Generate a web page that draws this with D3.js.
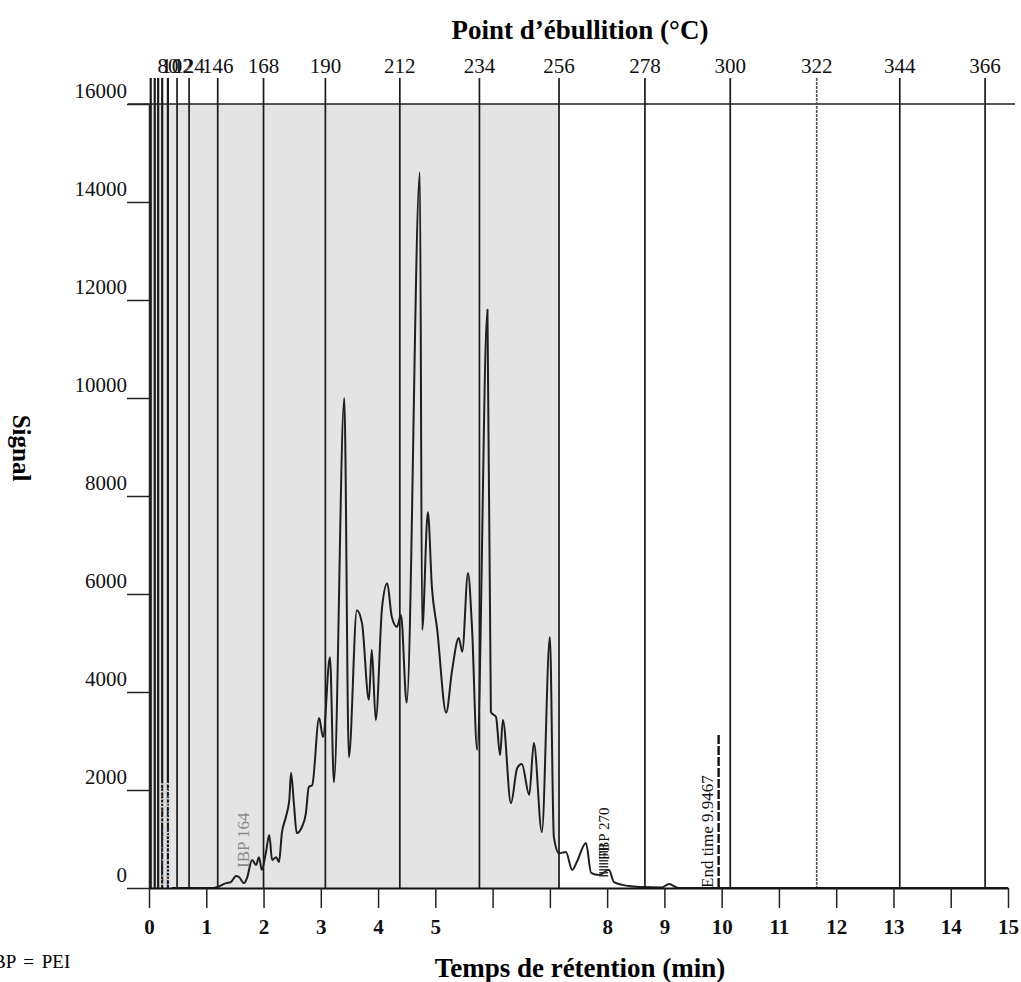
<!DOCTYPE html>
<html>
<head>
<meta charset="utf-8">
<script src="https://cdn.jsdelivr.net/npm/d3@7/dist/d3.min.js"></script>
<style>
  body { margin: 0; background: #fff; }
  svg { display: block; font-family: 'Liberation Serif', 'Times New Roman', serif; }
</style>
</head>
<body>
<div id="chart"></div>
<script>
// Chromatogram trace: retention time (min) -> signal
const retentionTimes = [
  0.40, 0.93, 1.13, 1.35, 1.43, 1.52, 1.57, 1.66, 1.71, 1.80, 1.87, 1.92, 1.97,
  2.04, 2.10, 2.15, 2.22, 2.27, 2.32, 2.39, 2.45, 2.48, 2.53, 2.58, 2.67, 2.74,
  2.79, 2.85, 2.97, 3.04, 3.16, 3.23, 3.41, 3.49, 3.63, 3.72, 3.84, 3.89, 3.96,
  4.07, 4.16, 4.24, 4.33, 4.40, 4.50, 4.73, 4.77, 4.87, 4.94, 5.03, 5.19, 5.29,
  5.41, 5.47, 5.57, 5.64, 5.73, 5.91, 5.97, 6.06, 6.13, 6.18, 6.32, 6.43, 6.51,
  6.64, 6.72, 6.86, 7.00, 7.07, 7.16, 7.28, 7.39, 7.47, 7.63, 7.72, 7.86, 8.03,
  8.12, 8.38, 8.61, 8.95, 9.08, 9.25, 15.0
];
const signalValues = [
  0, 0, 0, 100, 120, 245, 225, 100, 200, 570, 470, 630, 370,
  715, 1080, 570, 630, 530, 1120, 1450, 1800, 2350, 1730, 1120, 1245, 1530,
  2060, 2100, 3470, 3080, 4710, 2160, 10000, 2670, 5670, 5400, 3840, 4860, 3430,
  5730, 6220, 5530, 5330, 5570, 3780, 14600, 5270, 7670, 6140, 5300, 3580, 4420,
  5100, 4820, 6430, 5330, 2820, 11800, 3590, 3490, 2710, 3430, 1730, 2450, 2530,
  1900, 2960, 1140, 5120, 1040, 710, 735, 370, 530, 920, 310, 265, 370,
  120, 40, 20, 10, 80, 0, 0
];

// boiling point marker lines (top axis): label in °C and retention time of the line
const bpLabels = ['', '', '', '', '80', '102', '124', '146', '168', '190', '212', '234', '256', '278', '300', '322', '344', '366'];
const bpTimes  = [0.03, 0.10, 0.16, 0.23, 0.33, 0.49, 0.70, 1.20, 2.00, 3.08, 4.38, 5.77, 7.16, 8.66, 10.15, 11.66, 13.11, 14.60];

const yTicks = [0, 2000, 4000, 6000, 8000, 10000, 12000, 14000, 16000];
const xTicks = [0, 1, 2, 3, 4, 5, 6, 7, 8, 9, 10, 11, 12, 13, 14, 15];
const xTickLabels = ['0', '1', '2', '3', '4', '5', '', '', '8', '9', '10', '11', '12', '13', '14', '15'];

// annotations
const ibpTime = 1.65, ibpText = 'IBP 164';
const fbpTime = 7.94, fbpText = 'FBP 270';
const startTime = 0.40, startText = 'Start time 0.3833';
const endTime = 9.9467, endText = 'End time 9.9467';
const shadeEndBp = '256';

const width = 1021, height = 982;

const svg = d3.select('#chart').append('svg')
  .attr('width', width)
  .attr('height', height)
  .style('background', '#fff');

const x = d3.scaleLinear().domain([0, 15]).range([149, 1008]);
const y = d3.scaleLinear().domain([0, 16000]).range([888, 104]);

// grey band up to the 256 °C marker
svg.append('rect')
  .attr('x', x(0))
  .attr('y', y(16000))
  .attr('width', x(bpTimes[bpLabels.indexOf(shadeEndBp)]) - x(0))
  .attr('height', y(0) - y(16000))
  .attr('fill', '#e4e4e4');

// top border line at 16000
svg.append('line')
  .attr('x1', 128).attr('x2', 1015)
  .attr('y1', y(16000)).attr('y2', y(16000))
  .attr('stroke', '#222').attr('stroke-width', 1.6);

// boiling point vertical lines
svg.selectAll('.bp-line')
  .data(bpTimes)
  .enter()
  .append('line')
  .attr('class', 'bp-line')
  .attr('x1', d => x(d)).attr('x2', d => x(d))
  .attr('y1', 78).attr('y2', y(0))
  .attr('stroke', (d, i) => bpLabels[i] === '322' ? '#555' : '#1a1a1a')
  .attr('stroke-width', (d, i) => i < 5 ? 2.2 : 1.7)
  .attr('stroke-dasharray', (d, i) => bpLabels[i] === '322' ? '3,1' : null);

// top labels
svg.selectAll('.bp-label')
  .data(bpTimes)
  .enter()
  .append('text')
  .attr('class', 'bp-label')
  .attr('x', d => x(d))
  .attr('y', 73)
  .attr('text-anchor', 'middle')
  .style('font-size', '21px')
  .style('fill', '#111')
  .text((d, i) => bpLabels[i]);

// chromatogram trace
const trace = d3.line()
  .x(d => x(d[0]))
  .y(d => y(d[1]))
  .curve(d3.curveMonotoneX);

svg.append('path')
  .datum(d3.zip(retentionTimes, signalValues))
  .attr('d', trace)
  .attr('fill', 'none')
  .attr('stroke', '#1e1e1e')
  .attr('stroke-width', 2)
  .attr('stroke-linejoin', 'round');

// left axis
const gy = svg.append('g')
  .attr('transform', `translate(${x(0)},0)`)
  .call(d3.axisLeft(y).tickValues(yTicks).tickSize(22).tickSizeOuter(0).tickFormat(d3.format('d')))
  .attr('font-family', null)
  .attr('font-size', null);
gy.select('.domain').attr('stroke', '#222').attr('stroke-width', 1.5);
gy.selectAll('.tick line').attr('stroke', '#222').attr('stroke-width', 1.5);
gy.selectAll('.tick text')
  .attr('x', -22)
  .attr('dy', '-0.3em')
  .style('font-size', '21px')
  .style('fill', '#111');

// bottom axis
const gx = svg.append('g')
  .attr('transform', `translate(0,${y(0)})`)
  .call(d3.axisBottom(x).tickValues(xTicks).tickSize(20).tickSizeOuter(0).tickFormat((d, i) => xTickLabels[i]))
  .attr('font-family', null)
  .attr('font-size', null);
gx.select('.domain').attr('stroke', '#111').attr('stroke-width', 2.2);
gx.selectAll('.tick line').attr('stroke', '#222').attr('stroke-width', 1.5);
gx.selectAll('.tick text')
  .attr('y', 31)
  .style('font-size', '21px')
  .style('font-weight', 'bold')
  .style('fill', '#111');

// titles
svg.append('text')
  .attr('x', 580).attr('y', 39)
  .attr('text-anchor', 'middle')
  .style('font-size', '27px').style('font-weight', 'bold')
  .text('Point d\u2019ébullition (°C)');

svg.append('text')
  .attr('x', 580).attr('y', 977)
  .attr('text-anchor', 'middle')
  .style('font-size', '27px').style('font-weight', 'bold')
  .text('Temps de rétention (min)');

svg.append('text')
  .attr('transform', 'translate(13,448) rotate(90)')
  .attr('text-anchor', 'middle')
  .style('font-size', '25px').style('font-weight', 'bold')
  .text('Signal');

svg.append('text')
  .attr('x', -7).attr('y', 968)
  .style('font-size', '19px')
  .style('word-spacing', '3px')
  .text('BP = PEI');

// rotated annotations
function vertLabel(px, py, txt, size, color) {
  svg.append('text')
    .attr('transform', `translate(${px},${py}) rotate(-90)`)
    .style('font-size', size + 'px')
    .style('fill', color)
    .text(txt);
}

vertLabel(x(startTime) - 2, 886, startText, 15, '#cdcdcd');
vertLabel(x(ibpTime) + 6, 868, ibpText, 17, '#8a8a8a');

// FBP hatch
svg.append('line')
  .attr('x1', x(fbpTime)).attr('x2', x(fbpTime))
  .attr('y1', 845).attr('y2', 878)
  .attr('stroke', '#333').attr('stroke-width', 9)
  .attr('stroke-dasharray', '1.5,1.5');
vertLabel(x(fbpTime) + 5, 860, fbpText, 15, '#111');

// end time marker
svg.append('line')
  .attr('x1', x(endTime)).attr('x2', x(endTime))
  .attr('y1', 735).attr('y2', y(0))
  .attr('stroke', '#111').attr('stroke-width', 2.4)
  .attr('stroke-dasharray', '9,2');
vertLabel(x(endTime) - 6, 888, endText, 17, '#111');
</script>
</body>
</html>
